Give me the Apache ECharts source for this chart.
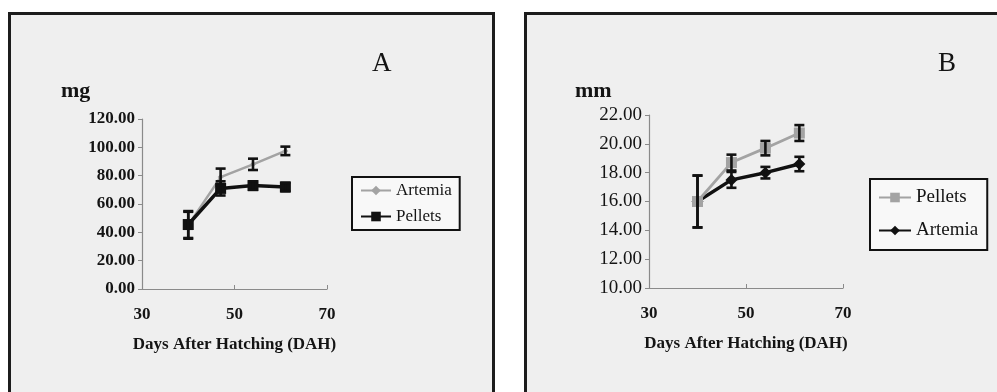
<!DOCTYPE html>
<html>
<head>
<meta charset="utf-8">
<script src="https://cdn.jsdelivr.net/npm/echarts@6/dist/echarts.min.js"></script>
<style>
  html, body { margin: 0; padding: 0; background: #ffffff; }
  #chart { width: 997px; height: 392px; }
</style>
</head>
<body>
<div id="chart"></div>
<script>
// Sampling days (days after hatching)
const days = [40, 47, 54, 61];

// Panel A: dry weight (mg)
const massArtemia = [45, 79, 88, 97.5];
const massArtemiaErr = [9.5, 6, 4, 3];
const massPellets = [45.5, 71, 73, 72];
const massPelletsErr = [9.5, 5, 3, 3];

// Panel B: total length (mm)
const lenPellets = [16.0, 18.7, 19.7, 20.75];
const lenPelletsErr = [1.8, 0.55, 0.5, 0.55];
const lenArtemia = [16.0, 17.5, 18.0, 18.6];
const lenArtemiaErr = [1.8, 0.55, 0.4, 0.5];

// Axis ticks
const xTicks = [30, 50, 70];
const massTicks = [0, 20, 40, 60, 80, 100, 120];
const lenTicks = [10, 12, 14, 16, 18, 20, 22];

const SERIF = '"Liberation Serif", "Times New Roman", serif';
const GRAY = '#a3a3a3';
const BLACK = '#111111';
const INK = '#141414';

function pairs(vals) { return days.map((d, i) => [d, vals[i]]); }
function triples(vals, errs) { return days.map((d, i) => [d, vals[i], errs[i]]); }

// Vertical error bar with caps, drawn through the axis scales
function errorBars(idx, vals, errs) {
  return {
    type: 'custom',
    xAxisIndex: idx, yAxisIndex: idx,
    data: triples(vals, errs),
    encode: { x: 0, y: 1 },
    z: 4,
    silent: true,
    renderItem(params, api) {
      const x = api.value(0), y = api.value(1), e = api.value(2);
      const top = api.coord([x, y + e]);
      const bot = api.coord([x, y - e]);
      const w = 5;
      const st = { stroke: BLACK, lineWidth: 2.6 };
      return {
        type: 'group',
        children: [
          { type: 'line', shape: { x1: top[0], y1: top[1], x2: bot[0], y2: bot[1] }, style: st },
          { type: 'line', shape: { x1: top[0] - w, y1: top[1], x2: top[0] + w, y2: top[1] }, style: st },
          { type: 'line', shape: { x1: bot[0] - w, y1: bot[1], x2: bot[0] + w, y2: bot[1] }, style: st }
        ]
      };
    }
  };
}

function lineSeries(idx, name, vals, color, width, symbol, size, z) {
  return {
    type: 'line', name: name,
    xAxisIndex: idx, yAxisIndex: idx,
    data: pairs(vals),
    symbol: symbol, symbolSize: size,
    lineStyle: { color: color, width: width },
    itemStyle: { color: color },
    z: z,
    animation: false
  };
}

function xAxis(idx) {
  return {
    type: 'value', gridIndex: idx,
    min: 30, max: 70, interval: 20,
    axisLine: { lineStyle: { color: '#8a8a8a', width: 1.2 } },
    axisTick: { inside: true, length: 4, lineStyle: { color: '#8a8a8a' } },
    splitLine: { show: false },
    axisLabel: {
      margin: 17, color: INK, fontFamily: SERIF, fontWeight: 'bold', fontSize: 17,
      customValues: xTicks
    },
    name: 'Days After Hatching (DAH)',
    nameLocation: 'middle', nameGap: 47,
    nameTextStyle: { color: INK, fontFamily: SERIF, fontWeight: 'bold', fontSize: 17 }
  };
}

function yAxis(idx, ticks, bold, size) {
  return {
    type: 'value', gridIndex: idx,
    min: ticks[0], max: ticks[ticks.length - 1], interval: ticks[1] - ticks[0],
    axisLine: { show: true, lineStyle: { color: '#8a8a8a', width: 1.2 } },
    axisTick: { show: true, length: 4, lineStyle: { color: '#8a8a8a' } },
    splitLine: { show: false },
    axisLabel: {
      margin: 7, color: INK, fontFamily: SERIF,
      fontWeight: bold ? 'bold' : 'normal', fontSize: size,
      formatter: v => v.toFixed(2)
    }
  };
}

function legend(left, top, names, fontSize, gap, pad, iconW) {
  return {
    orient: 'vertical', left: left, top: top,
    data: names,
    formatter: n => n.split(':')[1],
    itemWidth: iconW, itemHeight: 12, itemGap: gap,
    padding: pad,
    borderColor: BLACK, borderWidth: 2, borderRadius: 0,
    backgroundColor: '#f8f8f8',
    textStyle: { fontFamily: SERIF, fontSize: fontSize, color: INK },
    selectedMode: false
  };
}

const chart = echarts.init(document.getElementById('chart'), null, { renderer: 'canvas' });

chart.setOption({
  animation: false,
  backgroundColor: '#ffffff',
  graphic: [
    { type: 'rect', z: -10, shape: { x: 9.5, y: 13.5, width: 484, height: 400 },
      style: { fill: '#efefef', stroke: '#1c1c1c', lineWidth: 3 } },
    { type: 'rect', z: -10, shape: { x: 525.5, y: 13.5, width: 480, height: 400 },
      style: { fill: '#efefef', stroke: '#1c1c1c', lineWidth: 3 } },
    { type: 'text', left: 372, top: 50,
      style: { text: 'A', font: '27px ' + SERIF, fill: INK } },
    { type: 'text', left: 938, top: 50,
      style: { text: 'B', font: '27px ' + SERIF, fill: INK } },
    { type: 'text', left: 61, top: 80,
      style: { text: 'mg', font: 'bold 22px ' + SERIF, fill: INK } },
    { type: 'text', left: 575, top: 80,
      style: { text: 'mm', font: 'bold 22px ' + SERIF, fill: INK } }
  ],
  grid: [
    { left: 142, top: 119, width: 185, height: 170 },
    { left: 649, top: 115, width: 194, height: 173 }
  ],
  xAxis: [xAxis(0), xAxis(1)],
  yAxis: [yAxis(0, massTicks, true, 17), yAxis(1, lenTicks, false, 19)],
  legend: [
    legend(352, 177, ['A:Artemia', 'A:Pellets'], 17, 9, [5, 8, 5, 8], 30),
    legend(870, 179, ['B:Pellets', 'B:Artemia'], 19, 14, [9, 9, 10, 8], 32)
  ],
  series: [
    lineSeries(0, 'A:Artemia', massArtemia, GRAY, 2.5, 'diamond', 6, 2),
    lineSeries(0, 'A:Pellets', massPellets, BLACK, 3.5, 'rect', 11, 3),
    errorBars(0, massArtemia, massArtemiaErr),
    errorBars(0, massPellets, massPelletsErr),
    lineSeries(1, 'B:Pellets', lenPellets, GRAY, 2.8, 'rect', 11, 3),
    lineSeries(1, 'B:Artemia', lenArtemia, BLACK, 3.5, 'diamond', 12, 2),
    errorBars(1, lenPellets, lenPelletsErr),
    errorBars(1, lenArtemia, lenArtemiaErr)
  ]
});
</script>
</body>
</html>
